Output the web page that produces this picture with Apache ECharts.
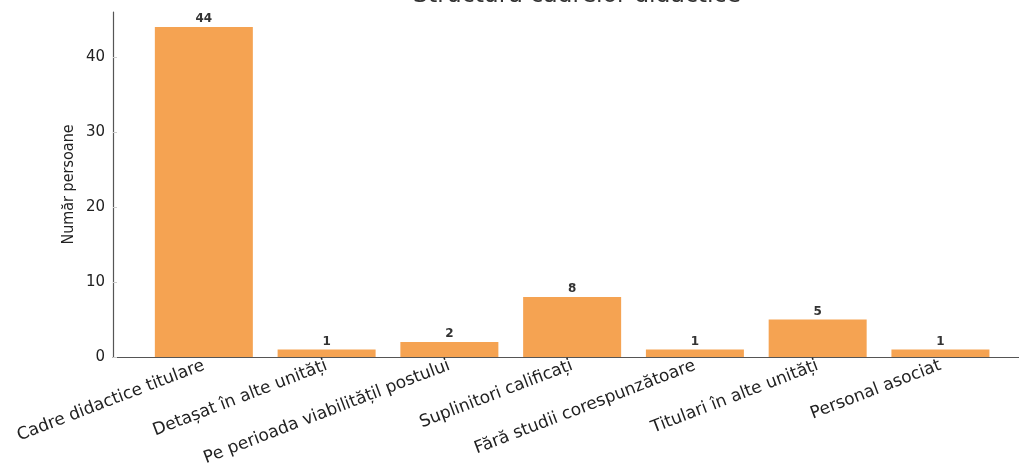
<!DOCTYPE html>
<html>
<head>
<meta charset="utf-8">
<script src="https://cdn.jsdelivr.net/npm/echarts@6/dist/echarts.min.js"></script>
<style>html,body{margin:0;padding:0;background:#fff;}#c{width:1019px;height:463px;}</style>
</head>
<body>
<div id="c"></div>
<script>
const title = 'Structura cadrelor didactice';
const categories = ['Cadre didactice titulare','Detașat în alte unități','Pe perioada viabilitățil postului','Suplinitori calificați','Fără studii corespunzătoare','Titulari în alte unități','Personal asociat'];
const values = [44, 1, 2, 8, 1, 5, 1];
const yTicks = [0, 10, 20, 30, 40];
const yName = 'Număr persoane';

const chart = echarts.init(document.getElementById('c'));
const idx = categories.map((_, i) => i);
chart.setOption({
  animation: false,
  backgroundColor: '#fff',
  title: {
    text: title, left: 572, textAlign: 'center', top: -21,
    textStyle: {fontFamily: 'DejaVu Sans', fontSize: 23.5, fontWeight: 'normal', color: '#333'}
  },
  grid: {left: 113, right: 0, top: 12, bottom: 106, containLabel: false, outerBoundsMode: 'none'},
  xAxis: {
    type: 'value', min: -0.74, max: 6.64,
    splitLine: {show: false},
    axisLine: {show: true, onZero: false, lineStyle: {color: '#555', width: 1.2}},
    axisTick: {show: true, inside: true, length: 4, customValues: idx, lineStyle: {color: '#555'}},
    axisLabel: {
      customValues: idx, rotate: 21, margin: 8,
      fontFamily: 'DejaVu Sans', fontSize: 17, color: '#222',
      formatter: v => categories[Math.round(v)]
    }
  },
  yAxis: {
    type: 'value', min: 0, max: 46, interval: 10,
    name: yName, nameLocation: 'middle', nameGap: 36, nameMoveOverlap: false,
    nameTextStyle: {fontFamily: 'Liberation Sans Narrow, DejaVu Sans Condensed, DejaVu Sans', fontSize: 16, color: '#222'},
    splitLine: {show: false},
    axisLine: {show: true, onZero: false, lineStyle: {color: '#555', width: 1.2}},
    axisTick: {show: true, inside: true, length: 4, lineStyle: {color: '#ccc'}},
    axisLabel: {showMaxLabel: false, fontFamily: 'DejaVu Sans', fontSize: 15, color: '#222', margin: 8,
      formatter: v => yTicks.includes(v) ? String(v) : ''}
  },
  series: [{
    type: 'bar',
    data: values.map((v, i) => [i, v]),
    barWidth: 98,
    itemStyle: {color: '#F5A352'},
    label: {show: true, position: 'top', distance: 2, formatter: p => String(p.value[1]),
      fontFamily: 'DejaVu Sans', fontSize: 12, fontWeight: 'bold', color: '#333'}
  }]
});
</script>
</body>
</html>
